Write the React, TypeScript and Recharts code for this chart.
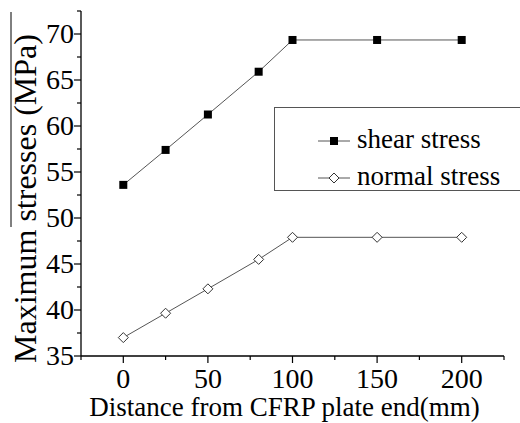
import { Legend, Line, LineChart, XAxis, YAxis } from "recharts";

const distances = [0, 25, 50, 80, 100, 150, 200];
const shearStress = [53.6, 57.4, 61.25, 65.9, 69.35, 69.35, 69.35];
const normalStress = [37.0, 39.65, 42.3, 45.5, 47.9, 47.9, 47.9];

const xTicks = [-25, 0, 25, 50, 75, 100, 125, 150, 175, 200, 225];
const yTicks = [35, 37.5, 40, 42.5, 45, 47.5, 50, 52.5, 55, 57.5, 60, 62.5, 65, 67.5, 70, 72.5];

const chartData = distances.map((d, i) => ({
    dist: d,
    shear: shearStress[i],
    normal: normalStress[i],
}));

const legendOrder = ["shear", "normal"];

const serif = { fontFamily: '"Liberation Serif", "DejaVu Serif", serif' };

function XTick({ x, y, payload }: any) {
    const major = payload.value % 50 === 0;
    return (
        <g>
            <line x1={x} y1={y} x2={x} y2={y + (major ? 7 : 4)} stroke="#000" strokeWidth={1.2} />
            {major && (
                <text x={x} y={y + 32} textAnchor="middle" fontSize={28} style={serif} fill="#000">
                    {payload.value}
                </text>
            )}
        </g>
    );
}

function YTick({ x, y, payload }: any) {
    const major = payload.value % 5 === 0;
    return (
        <g>
            <line x1={x} y1={y} x2={x - (major ? 7 : 4)} y2={y} stroke="#000" strokeWidth={1.2} />
            {major && (
                <text x={x - 7} y={y + 9} textAnchor="end" fontSize={28} style={serif} fill="#000">
                    {payload.value}
                </text>
            )}
        </g>
    );
}

function XTitle({ viewBox }: any) {
    const cx = viewBox.x + viewBox.width / 2 - 8;
    return (
        <text x={cx} y={viewBox.y + 60} textAnchor="middle" fontSize={27} style={serif} fill="#000">
            Distance from CFRP plate end(mm)
        </text>
    );
}

function YTitle({ viewBox }: any) {
    const cy = viewBox.y + viewBox.height / 2 + 15;
    const bx = 36;
    return (
        <g>
            <line x1={11} y1={12} x2={11} y2={227} stroke="#000" strokeWidth={1} />
            <text
                x={bx}
                y={cy}
                transform={`rotate(-90 ${bx} ${cy})`}
                textAnchor="middle"
                fontSize={32}
                style={serif}
                fill="#000"
            >
                Maximum stresses (MPa)
            </text>
        </g>
    );
}

function SquareDot({ cx, cy, index }: any) {
    return <rect key={`sq-${index}`} x={cx - 4} y={cy - 4} width={8} height={8} fill="#000" />;
}

function DiamondDot({ cx, cy, index }: any) {
    return (
        <path
            key={`dm-${index}`}
            d={`M${cx},${cy - 5} L${cx + 5},${cy} L${cx},${cy + 5} L${cx - 5},${cy} Z`}
            fill="#fff"
            stroke="#333"
            strokeWidth={1}
        />
    );
}

function LegendBox({ payload }: any) {
    const items = [...(payload || [])].sort(
        (a: any, b: any) => legendOrder.indexOf(a.dataKey) - legendOrder.indexOf(b.dataKey)
    );
    return (
        <svg width={246} height={84} style={{ display: "block" }}>
            <rect x={0.5} y={0.5} width={250} height={83} fill="#fff" stroke="#555" strokeWidth={1} />
            {items.map((item: any, i: number) => {
                const y = 34 + i * 37;
                const square = item.dataKey === "shear";
                return (
                    <g key={item.dataKey}>
                        <line x1={44} y1={y} x2={76} y2={y} stroke="#555" strokeWidth={1} />
                        {square ? (
                            <rect x={56} y={y - 4} width={8} height={8} fill="#000" />
                        ) : (
                            <path
                                d={`M60,${y - 5} L65,${y} L60,${y + 5} L55,${y} Z`}
                                fill="#fff"
                                stroke="#333"
                                strokeWidth={1}
                            />
                        )}
                        <text x={83} y={y + 7} fontSize={27} style={serif} fill="#000">
                            {item.value}
                        </text>
                    </g>
                );
            })}
        </svg>
    );
}

export default function App() {
    return (
        <div style={{ position: "absolute", left: 0, top: 0, width: 520, height: 423, background: "#fff" }}>
            <LineChart
                width={520}
                height={423}
                data={chartData}
                margin={{ top: 11, right: 16, bottom: 0, left: 0 }}
            >
                <XAxis
                    dataKey="dist"
                    type="number"
                    domain={[-25, 225]}
                    ticks={xTicks}
                    interval={0}
                    height={67}
                    tickSize={0}
                    tickMargin={0}
                    tickLine={false}
                    axisLine={{ stroke: "#000", strokeWidth: 1.3 }}
                    tick={<XTick />}
                    label={<XTitle />}
                />
                <YAxis
                    type="number"
                    domain={[35, 72.5]}
                    ticks={yTicks}
                    interval={0}
                    width={81}
                    tickSize={0}
                    tickMargin={0}
                    tickLine={false}
                    axisLine={{ stroke: "#000", strokeWidth: 1.3 }}
                    tick={<YTick />}
                    label={<YTitle />}
                />
                <Legend
                    layout="horizontal"
                    verticalAlign="middle"
                    align="center"
                    content={<LegendBox />}
                    wrapperStyle={{ position: "absolute", left: 274, top: 107, width: 246, height: 84 }}
                />
                <Line
                    dataKey="shear"
                    name="shear stress"
                    stroke="#555"
                    strokeWidth={1}
                    dot={<SquareDot />}
                    activeDot={false}
                    isAnimationActive={false}
                />
                <Line
                    dataKey="normal"
                    name="normal stress"
                    stroke="#555"
                    strokeWidth={1}
                    dot={<DiamondDot />}
                    activeDot={false}
                    isAnimationActive={false}
                />
            </LineChart>
        </div>
    );
}
